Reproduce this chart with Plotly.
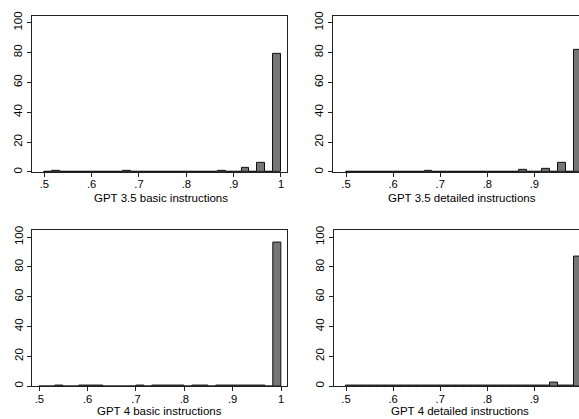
import plotly.graph_objects as go

# 30 bins of width 1/60 from 0.5 to 1.0 (percent of observations)
bin_start = 0.5
bin_width = 1 / 60
n_bins = 30

gpt35_basic = [0.2, 0.5, 0.2, 0.1, 0.3, 0.3, 0.1, 0.2, 0.3, 0.2,
               0.5, 0.2, 0.2, 0.3, 0.3, 0.1, 0.1, 0.2, 0.2, 0.1,
               0.1, 0.2, 0.9, 0.1, 0.4, 2.6, 0.3, 6.1, 0.0, 79.3]
gpt35_detailed = [0.2, 0.2, 0.1, 0.2, 0.3, 0.2, 0.2, 0.3, 0.1, 0.1,
                  0.7, 0.1, 0.1, 0.2, 0.3, 0.1, 0.1, 0.2, 0.2, 0.1,
                  0.2, 0.3, 1.5, 0.1, 0.0, 1.8, 0.0, 6.2, 0.0, 82.0]
gpt4_basic = [0.0, 0.0, 0.2, 0.0, 0.0, 0.2, 0.2, 0.2, 0.0, 0.0,
              0.0, 0.0, 0.2, 0.0, 0.2, 0.2, 0.2, 0.2, 0.0, 0.2,
              0.2, 0.0, 0.2, 0.2, 0.2, 0.2, 0.2, 0.2, 0.0, 96.7]
gpt4_detailed = [0.1, 0.2, 0.1, 0.1, 0.1, 0.1, 0.1, 0.1, 0.1, 0.2,
                 0.1, 0.1, 0.1, 0.2, 0.1, 0.1, 0.1, 0.1, 0.1, 0.3,
                 0.2, 0.1, 0.1, 0.1, 0.1, 0.1, 2.2, 0.1, 0.1, 86.7]

titles = ["GPT 3.5 basic instructions", "GPT 3.5 detailed instructions",
          "GPT 4 basic instructions", "GPT 4 detailed instructions"]
series = [gpt35_basic, gpt35_detailed, gpt4_basic, gpt4_detailed]

x_tickvals = [0.5, 0.6, 0.7, 0.8, 0.9, 1.0]
x_ticktext = [".5", ".6", ".7", ".8", ".9", "1"]
y_tickvals = [0, 20, 40, 60, 80, 100]

centers = [bin_start + bin_width * (i + 0.5) for i in range(n_bins)]

W, H = 579, 419
# panel boxes in pixels: (left, right, top, bottom)
boxes = [(32, 287, 12, 170), (333, 579, 12, 170),
         (32.3, 287.3, 228.3, 386.7), (334, 579, 228.3, 386.7)]
# axis-title centres in pixels (x, y)
title_pos = [(160.5, 196), (462, 196), (159.7, 412), (459.5, 412)]
xranges = [[0.474, 1.0127], [0.4724, 0.9947], [0.4855, 1.013], [0.4745, 0.9947]]
yranges = [[0, 104.6], [0, 104.6], [0, 105.1], [0, 105.1]]
right_line = [True, False, True, False]

FONT = "Liberation Sans, Arial, Helvetica, sans-serif"
fig = go.Figure()
layout = {}
annotations = []
for i in range(4):
    sx = "" if i == 0 else str(i + 1)
    fig.add_trace(go.Bar(
        x=centers, y=series[i], width=bin_width,
        marker=dict(color="rgb(118,118,118)", line=dict(color="#111", width=1)),
        xaxis="x" + sx, yaxis="y" + sx, showlegend=False))
    l, r, t, b = boxes[i]
    layout["xaxis" + sx] = dict(
        domain=[l / W, r / W], range=xranges[i], anchor="y" + sx,
        tickvals=x_tickvals, ticktext=x_ticktext, ticks="outside", ticklen=4,
        ticklabelstandoff=-2,
        tickcolor="#222", showline=True, linecolor="#222", linewidth=1,
        mirror=True, showgrid=False, zeroline=False,
        tickfont=dict(size=11.2, color="black", family=FONT))
    layout["yaxis" + sx] = dict(
        domain=[1 - b / H, 1 - t / H], range=yranges[i], anchor="x" + sx,
        tickvals=y_tickvals, ticks="outside", ticklen=4, tickangle=-90,
        tickcolor="#222", showline=True, linecolor="#222", linewidth=1,
        mirror=right_line[i], showgrid=False, zeroline=False,
        tickfont=dict(size=11.5, color="black", family=FONT))
    tx, ty = title_pos[i]
    annotations.append(dict(
        text=titles[i], xref="paper", yref="paper", x=tx / W, y=1 - ty / H,
        xanchor="center", yanchor="middle", showarrow=False,
        font=dict(size=11.5, color="black", family=FONT)))

fig.update_layout(**layout)
fig.update_layout(width=W, height=H, margin=dict(l=0, r=0, t=0, b=0),
                  paper_bgcolor="white", plot_bgcolor="white", bargap=0,
                  annotations=annotations,
                  font=dict(family=FONT, size=12, color="black"))
fig.write_html("out.html")
